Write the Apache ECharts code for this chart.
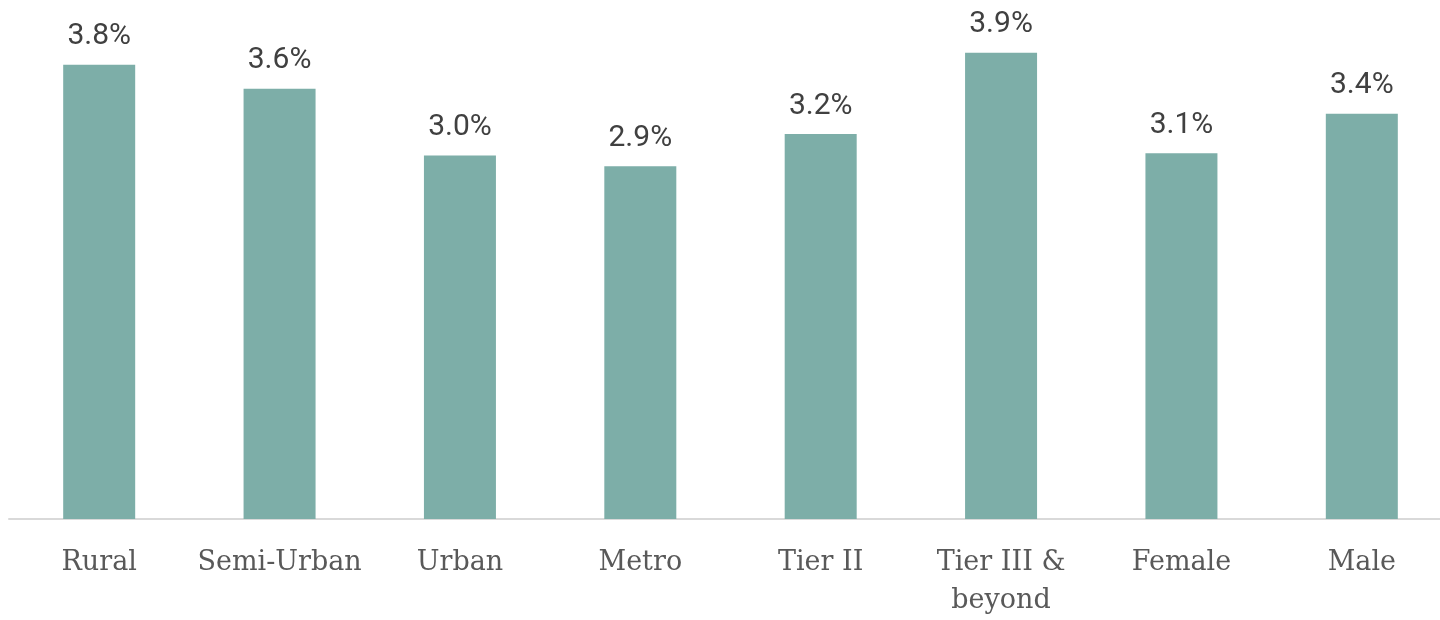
<!DOCTYPE html>
<html lang="en">
<head>
    <meta charset="utf-8">
    <script type="text/javascript" src="https://cdn.jsdelivr.net/npm/echarts@6/dist/echarts.min.js"></script>
</head>
<body style="height: 100%; margin: 0; background: #fff; overflow: hidden">
<div id="container" style="width:1470px;height:620px"></div>

<script type="text/javascript">
    var categories = ['Rural', 'Semi-Urban', 'Urban', 'Metro', 'Tier II', 'Tier III &\nbeyond', 'Female', 'Male'];
    var values = [3.8, 3.6, 3.04, 2.95, 3.22, 3.9, 3.06, 3.39];
    var valueLabels = ['3.8%', '3.6%', '3.0%', '2.9%', '3.2%', '3.9%', '3.1%', '3.4%'];

    var dom = document.getElementById("container");
    var myChart = echarts.init(dom);

    var option = {
        animation: false,
        grid: {
            left: 9,
            top: 5,
            width: 1443,
            bottom: 97,
            containLabel: false
        },
        xAxis: {
            type: 'category',
            data: categories,
            axisLine: {lineStyle: {color: '#d9d9d9', width: 2}},
            axisTick: {show: false},
            axisLabel: {
                color: '#595959',
                fontFamily: 'DejaVu Serif',
                fontSize: 27,
                lineHeight: 38,
                margin: 25,
                interval: 0
            }
        },
        yAxis: {
            type: 'value',
            min: 0,
            max: 4.3,
            show: false,
            splitLine: {show: false}
        },
        series: [{
            type: 'bar',
            data: values,
            barWidth: 72,
            itemStyle: {color: '#7daea8'},
            label: {
                show: true,
                position: 'top',
                distance: 13,
                color: '#404040',
                fontFamily: 'Roboto',
                fontSize: 30,
                formatter: function (p) {
                    return valueLabels[p.dataIndex];
                }
            }
        }]
    };

    myChart.setOption(option);
</script>
</body>
</html>
